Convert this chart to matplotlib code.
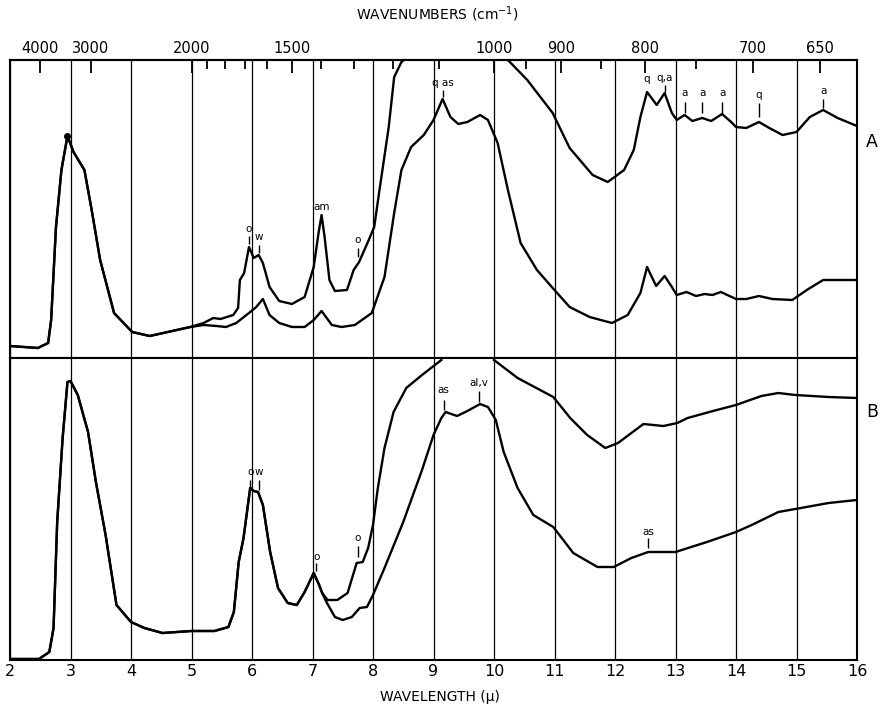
import numpy as np
import matplotlib
matplotlib.use("Agg")
import matplotlib.pyplot as plt

plt.rcParams['font.family'] = ['DejaVu Sans']
nan = np.nan

# ---- spectrum A (upper panel), readings in chart units (0 = panel bottom)
a1_wl = [2.00, 2.46, 2.63, 2.68, 2.76, 2.85, 2.95, 3.05, 3.23, 3.35, 3.49, 3.72,
         4.02, 4.31, 4.98, 5.20, 5.36, 5.48, 5.69, 5.77, 5.80, 5.87, 5.95, 6.03,
         6.11, 6.18, 6.29, 6.45, 6.66, 6.87, 7.02, 7.10, 7.15, 7.20, 7.28, 7.37,
         7.57, 7.68, 7.77, 7.93, 8.02, 8.10, 8.26, 8.35, 8.47, 8.55, nan,
         10.23, 10.55, 10.97, 11.25, 11.63, 11.88, 12.15, 12.31, 12.42, 12.53,
         12.69, 12.82, 12.94, 13.02, 13.15, 13.28, 13.44, 13.59, 13.77, 13.92,
         14.00, 14.17, 14.38, 14.55, 14.77, 15.00, 15.22, 15.44, 15.68, 16.00]
a1_val = [12, 10, 15, 38, 131, 188, 222, 206, 188, 148, 98, 45,
          26, 22, 31, 35, 40, 39, 43, 50, 78, 85, 111, 100,
          103, 95, 71, 57, 54, 61, 91, 125, 143, 121, 78, 67,
          68, 88, 96, 118, 131, 165, 231, 281, 296, 300, nan,
          298, 278, 245, 210, 183, 176, 188, 208, 241, 266,
          253, 265, 245, 238, 243, 237, 240, 237, 244, 236,
          231, 230, 236, 230, 223, 226, 241, 248, 240, 232]

a2_wl = [2.00, 2.46, 2.63, 2.68, 2.76, 2.85, 2.95, 3.05, 3.23, 3.35, 3.49, 3.72,
         4.02, 4.31, 4.98, 5.20, 5.41, 5.57, 5.74, 5.97, 6.07, 6.18, 6.29, 6.45,
         6.66, 6.87, 7.02, 7.15, 7.32, 7.48, 7.70, 7.98, 8.19, 8.35, 8.47, 8.63,
         8.84, 9.00, 9.15, 9.28, 9.41, 9.56, 9.77, 9.90, 10.06, 10.23, 10.44,
         10.71, 10.97, 11.25, 11.58, 11.95, 12.21, 12.42, 12.53, 12.68, 12.82,
         12.94, 13.02, 13.18, 13.34, 13.48, 13.61, 13.75, 14.00, 14.17, 14.38,
         14.60, 14.93, 15.17, 15.44, 15.73, 16.00]
a2_val = [12, 10, 15, 38, 131, 188, 222, 206, 188, 148, 98, 45,
          26, 22, 31, 33, 32, 31, 35, 46, 51, 59, 43, 35,
          31, 31, 38, 47, 33, 31, 33, 45, 81, 145, 188, 211,
          223, 238, 259, 241, 234, 236, 243, 238, 215, 168, 115,
          88, 70, 51, 41, 35, 43, 65, 91, 72, 82,
          71, 63, 66, 62, 64, 63, 66, 59, 59, 62,
          59, 58, 68, 78, 78, 78]

# ---- spectrum B (lower panel)
b1_wl = [2.03, 2.48, 2.65, 2.72, 2.78, 2.87, 2.95, 3.00, 3.12, 3.29, 3.42, 3.58,
         3.76, 4.00, 4.22, 4.52, 5.00, 5.38, 5.61, 5.70, 5.78, 5.86, 5.97, 6.03,
         6.10, 6.18, 6.30, 6.43, 6.59, 6.74, 6.87, 7.02, 7.11, 7.16, 7.25, 7.41,
         7.58, 7.73, 7.83, 7.92, 8.00, 8.08, 8.19, 8.34, 8.55, 8.81, 9.13, nan,
         10.00, 10.39, 10.98, 11.26, 11.54, 11.84, 12.05, 12.47, 12.80, 13.03,
         13.20, 13.62, 14.00, 14.42, 14.70, 14.98, 15.53, 16.00]
b1_val = [1, 1, 8, 32, 138, 222, 278, 279, 265, 228, 178, 125,
          55, 38, 32, 27, 29, 29, 33, 48, 98, 122, 172, 169,
          168, 155, 108, 72, 57, 55, 68, 87, 75, 67, 60, 60,
          67, 97, 98, 112, 135, 172, 212, 248, 272, 285, 300, nan,
          300, 282, 263, 242, 225, 212, 217, 236, 234, 237,
          242, 249, 255, 264, 267, 265, 263, 262]

b2_wl = [2.03, 2.48, 2.65, 2.72, 2.78, 2.87, 2.95, 3.00, 3.12, 3.29, 3.42, 3.58,
         3.76, 4.00, 4.22, 4.52, 5.00, 5.38, 5.61, 5.70, 5.78, 5.86, 5.97, 6.03,
         6.10, 6.18, 6.30, 6.43, 6.59, 6.74, 6.87, 7.02, 7.11, 7.16, 7.23, 7.37,
         7.50, 7.65, 7.78, 7.90, 8.00, 8.19, 8.50, 8.81, 9.00, 9.13, 9.20, 9.39,
         9.56, 9.77, 9.90, 10.03, 10.16, 10.39, 10.65, 10.98, 11.31, 11.71,
         11.98, 12.27, 12.55, 13.00, 13.52, 14.00, 14.26, 14.70, 14.98, 15.53,
         16.00]
b2_val = [1, 1, 8, 32, 138, 222, 278, 279, 265, 228, 178, 125,
          55, 38, 32, 27, 29, 29, 33, 48, 98, 122, 172, 169,
          168, 155, 108, 72, 57, 55, 68, 87, 75, 67, 58, 43,
          40, 43, 52, 53, 65, 92, 138, 190, 225, 242, 248, 244,
          249, 256, 253, 240, 208, 172, 145, 133, 107, 93,
          93, 102, 108, 108, 118, 128, 135, 148, 151, 157,
          160]

# band assignments: (label, wavelength, text base, tick low, tick high)
a_marks = [("o", 5.95, 124, 114, 122), ("w", 6.11, 116, 105, 113),
           ("am", 7.15, 146, nan, nan), ("o", 7.75, 113, 101, 110),
           ("q as", 9.15, 270, 261, 268), ("q", 12.53, 274, nan, nan),
           ("q,a", 12.82, 275, 266, 273), ("a", 13.15, 260, 245, 256),
           ("a", 13.44, 260, 245, 256), ("a", 13.77, 260, 245, 256),
           ("q", 14.38, 258, 241, 255), ("a", 15.44, 262, 250, 259)]
b_marks = [("o", 5.97, 183, 173, 180), ("w", 6.12, 183, 170, 180),
           ("o", 7.06, 98, 89, 97), ("o", 7.75, 117, 103, 114),
           ("as", 9.17, 265, 250, 260), ("al,v", 9.75, 272, 258, 269),
           ("as", 12.55, 123, 112, 122)]

wl_ticks = list(range(2, 17))
wn_major = [4000, 3000, 2000, 1500, 1000, 900, 800, 700, 650]
wn_minor = [1900, 1800, 1700, 1600, 1400, 1300, 1200, 1100, 950, 850, 750]

W, H = 885, 712
fig = plt.figure(figsize=(W / 100, H / 100), dpi=100)
ax_a = fig.add_axes([10 / W, (H - 358) / H, 847 / W, 298 / H])
ax_b = fig.add_axes([10 / W, (H - 660) / H, 847 / W, 302 / H])

for ax, top in ((ax_a, 298), (ax_b, 302)):
    ax.set_xlim(2, 16)
    ax.set_ylim(0, top)
    ax.set_xticks(wl_ticks)
    ax.set_yticks([])
    ax.grid(axis='x', color='black', lw=0.9)
    ax.tick_params(axis='x', length=0, labelsize=11.5, pad=3)
    for s in ax.spines.values():
        s.set_linewidth(1.5)

ax_a.tick_params(axis='x', labelbottom=False)

lw = 1.7
ax_a.plot(a1_wl, a1_val, color='black', lw=lw, solid_joinstyle='round', clip_on=True)
ax_a.plot(a2_wl, a2_val, color='black', lw=lw, solid_joinstyle='round')
ax_a.plot([a1_wl[6]], [a1_val[6]], 'o', color='black', ms=4)
ax_b.plot(b1_wl, b1_val, color='black', lw=lw, solid_joinstyle='round')
ax_b.plot(b2_wl, b2_val, color='black', lw=lw, solid_joinstyle='round')

for ax, marks in ((ax_a, a_marks), (ax_b, b_marks)):
    for lab, wl, ty, lo, hi in marks:
        ax.text(wl, ty, lab, ha='center', va='bottom', fontsize=7.5)
        if not np.isnan(lo):
            ax.vlines(wl, lo, hi, color='black', lw=1.0)

# wavenumber scale along the top
sec = ax_a.secondary_xaxis('top', functions=(lambda x: 1e4 / np.maximum(x, 1e-6),
                                             lambda k: 1e4 / np.maximum(k, 1e-6)))
sec.set_xticks(wn_major)
sec.set_xticklabels([str(v) for v in wn_major])
sec.set_xticks(wn_minor, minor=True)
sec.tick_params(axis='x', which='major', direction='in', length=9, width=1.3,
                labelsize=10.5, pad=3)
sec.tick_params(axis='x', which='minor', direction='in', length=6.5, width=1.3)
sec.spines['top'].set_linewidth(1.5)

fig.text(437 / W, 1 - 14 / H, "WAVENUMBERS (cm$^{-1}$)", ha='center', va='center',
         fontsize=10)
fig.text(440 / W, 1 - 697 / H, "WAVELENGTH (μ)", ha='center', va='center',
         fontsize=10)
fig.text(872 / W, 1 - 142 / H, "A", ha='center', va='center', fontsize=12.5)
fig.text(872 / W, 1 - 412 / H, "B", ha='center', va='center', fontsize=12.5)

fig.savefig("out.png", dpi=100)
